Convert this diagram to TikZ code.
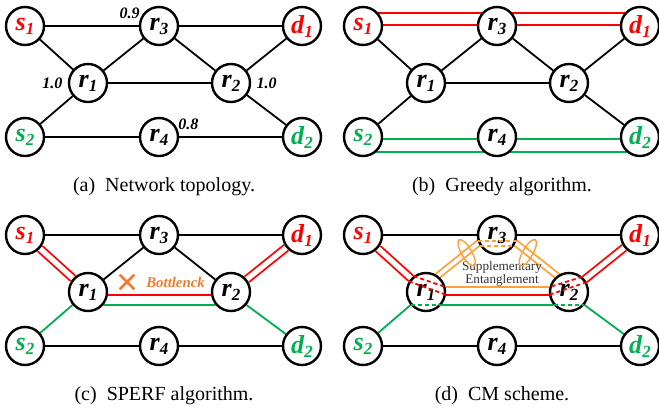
\documentclass[tikz,border=0pt]{standalone}
\usepackage{fontspec}
\setmainfont{Liberation Serif}
\usetikzlibrary{calc,positioning,shapes.misc,backgrounds}
\definecolor{pathred}{RGB}{255,0,0}
\definecolor{pathgreen}{RGB}{0,176,80}
\definecolor{suppl}{RGB}{255,160,60}
\definecolor{bneck}{RGB}{237,125,49}
\newcommand{\lab}[2]{\textbf{\textit{#1}}\raisebox{-2pt}{\fontsize{8.5}{8.5}\selectfont\textbf{\textit{#2}}}}
\newcommand{\topo}{%
  \node[nd, text=pathred] (s1) at (25,26) {\lab{s}{1}};
  \node[nd] (r3) at (159,26) {\lab{r}{3}};
  \node[nd, text=pathred] (d1) at (302,26) {\lab{d}{1}};
  \node[nd] (r1) at (88,83) {\lab{r}{1}};
  \node[nd] (r2) at (231,83) {\lab{r}{2}};
  \node[nd, text=pathgreen] (s2) at (25,137) {\lab{s}{2}};
  \node[nd] (r4) at (159,137) {\lab{r}{4}};
  \node[nd, text=pathgreen] (d2) at (302,137) {\lab{d}{2}};
}

\begin{document}
\begin{tikzpicture}[
    x=0.5pt,y=-0.5pt,
    nd/.style={circle, draw, fill=white, line width=1.2pt, minimum size=19pt, inner sep=0pt, font=\fontsize{13}{13}\selectfont},
    link/.style={line width=0.9pt},
    twin/.style={line width=0.9pt, double=white, double distance=#1},
    hop/.style={line width=0.9pt, dash pattern=on 2pt off 1.5pt},
    wt/.style={font=\fontsize{8}{8}\selectfont\bfseries\itshape, inner sep=0pt},
    capt/.style={font=\fontsize{10}{12}\selectfont}
    ]
  \useasboundingbox (0,0) rectangle (659,414);

  \begin{scope}[name prefix=a-]
    \topo
    \node[wt, left=2.5pt of r1] (w1) {1.0};
    \node[wt, right=2.5pt of r2] (w2) {1.0};
    \node[wt, anchor=south east] (w3) at (r3.160) {0.9};
    \node[wt, anchor=south west] (w4) at (r4.20) {0.8};
    \node[capt] (cap) at (164,187) {(a)\enspace Network topology.};
    \begin{pgfonlayer}{background}
      \draw[link] (s1) -- (r3) (r3) -- (d1) (s1) -- (r1) (r1) -- (r3) (r3) -- (r2) (r2) -- (d1)
        (r1) -- (r2) (r1) -- (s2) (r2) -- (d2) (s2) -- (r4) (r4) -- (d2);
    \end{pgfonlayer}
  \end{scope}

  \begin{scope}[shift={(338,0)}, name prefix=b-]
    \topo
    \node[capt] (cap) at (164,187) {(b)\enspace Greedy algorithm.};
    \begin{pgfonlayer}{background}
      \draw[link] (s1) -- (r1) (r1) -- (r3) (r3) -- (r2) (r2) -- (d1)
        (r1) -- (r2) (r1) -- (s2) (r2) -- (d2);
      \draw[twin=5.1pt, pathred] ($(s1)+(0,-7)$) -- ($(r3)+(0,-7)$) ($(r3)+(0,-7)$) -- ($(d1)+(0,-7)$);
      \draw[twin=5.6pt, pathgreen] ($(s2)+(0,8.5)$) -- ($(r4)+(0,8.5)$) ($(r4)+(0,8.5)$) -- ($(d2)+(0,8.5)$);
    \end{pgfonlayer}
  \end{scope}

  \begin{scope}[shift={(0,209)}, name prefix=c-]
    \topo
    \node[draw=bneck, cross out, line width=1.3pt, minimum size=6pt, inner sep=0pt] (bx) at (127,73) {};
    \node[font=\fontsize{7.4}{7.4}\selectfont\bfseries\itshape, text=bneck, right=2.5pt of bx] (bt) {Bottlenck};
    \node[capt] (cap) at (164,187) {(c)\enspace SPERF algorithm.};
    \begin{pgfonlayer}{background}
      \draw[link] (s1) -- (r3) (r3) -- (d1) (r1) -- (r3) (r3) -- (r2) (s2) -- (r4) (r4) -- (d2);
      \draw[twin=2.6pt, pathred] (s1) -- (r1) (r2) -- (d1);
      \draw[link, pathred] (r1.-8) -- (r2.-172);
      \draw[link, pathgreen] (s2) -- (r1.-140) (r1.-40) -- (r2.-140) (r2.-40) -- (d2);
    \end{pgfonlayer}
  \end{scope}

  \begin{scope}[shift={(338,209)}, name prefix=d-]
    \topo
    \node[font=\fontsize{6.6}{6.6}\selectfont, align=center, text=black!80] (se) at (164,65) {Supplementary\\Entanglement};
    \node[capt] (cap) at (164,187) {(d)\enspace CM scheme.};
    \coordinate (e1) at ($(r1)!.6!(r3)+(-2,-5)$);
    \coordinate (e2) at ($(r2)!.6!(r3)+(2,-5)$);
    \begin{pgfonlayer}{background}
      \draw[link] (s1) -- (r3) (r3) -- (d1) (s2) -- (r4) (r4) -- (d2);
      \draw[twin=2.6pt, pathred] (s1) -- (r1) (r2) -- (d1);
      \draw[link, pathred] (r1.-8) -- (r2.-172);
      \draw[link, pathgreen] (s2) -- (r1.-140) (r1.-40) -- (r2.-140) (r2.-40) -- (d2);
      \draw[link, suppl] (r1.14) -- (r2.166);
      \draw[twin=1.85pt, suppl] ($(r1)!2.65pt!90:(r3)$) -- ($(r3)!2.65pt!-90:(r1)$)
        ($(r3)!2.65pt!90:(r2)$) -- ($(r2)!2.65pt!-90:(r3)$);
    \end{pgfonlayer}
    \draw[hop, pathred] (r1.128) -- (r1.14) (r1.148) -- (r1.-8) (r2.49) -- (r2.166) (r2.29) -- (r2.-172);
    \draw[hop, pathgreen] (r1.-140) -- (r1.-40) (r2.-140) -- (r2.-40);
    \draw[hop, suppl] (r3.-163) -- (r3.-17) (r3.-147) -- (r3.-33);
    \draw[suppl, line width=0.7pt, rotate around={30:(e1)}] (e1) ellipse [x radius=5, y radius=15];
    \draw[suppl, line width=0.7pt, rotate around={-30:(e2)}] (e2) ellipse [x radius=5, y radius=15];
  \end{scope}
\end{tikzpicture}
\end{document}
